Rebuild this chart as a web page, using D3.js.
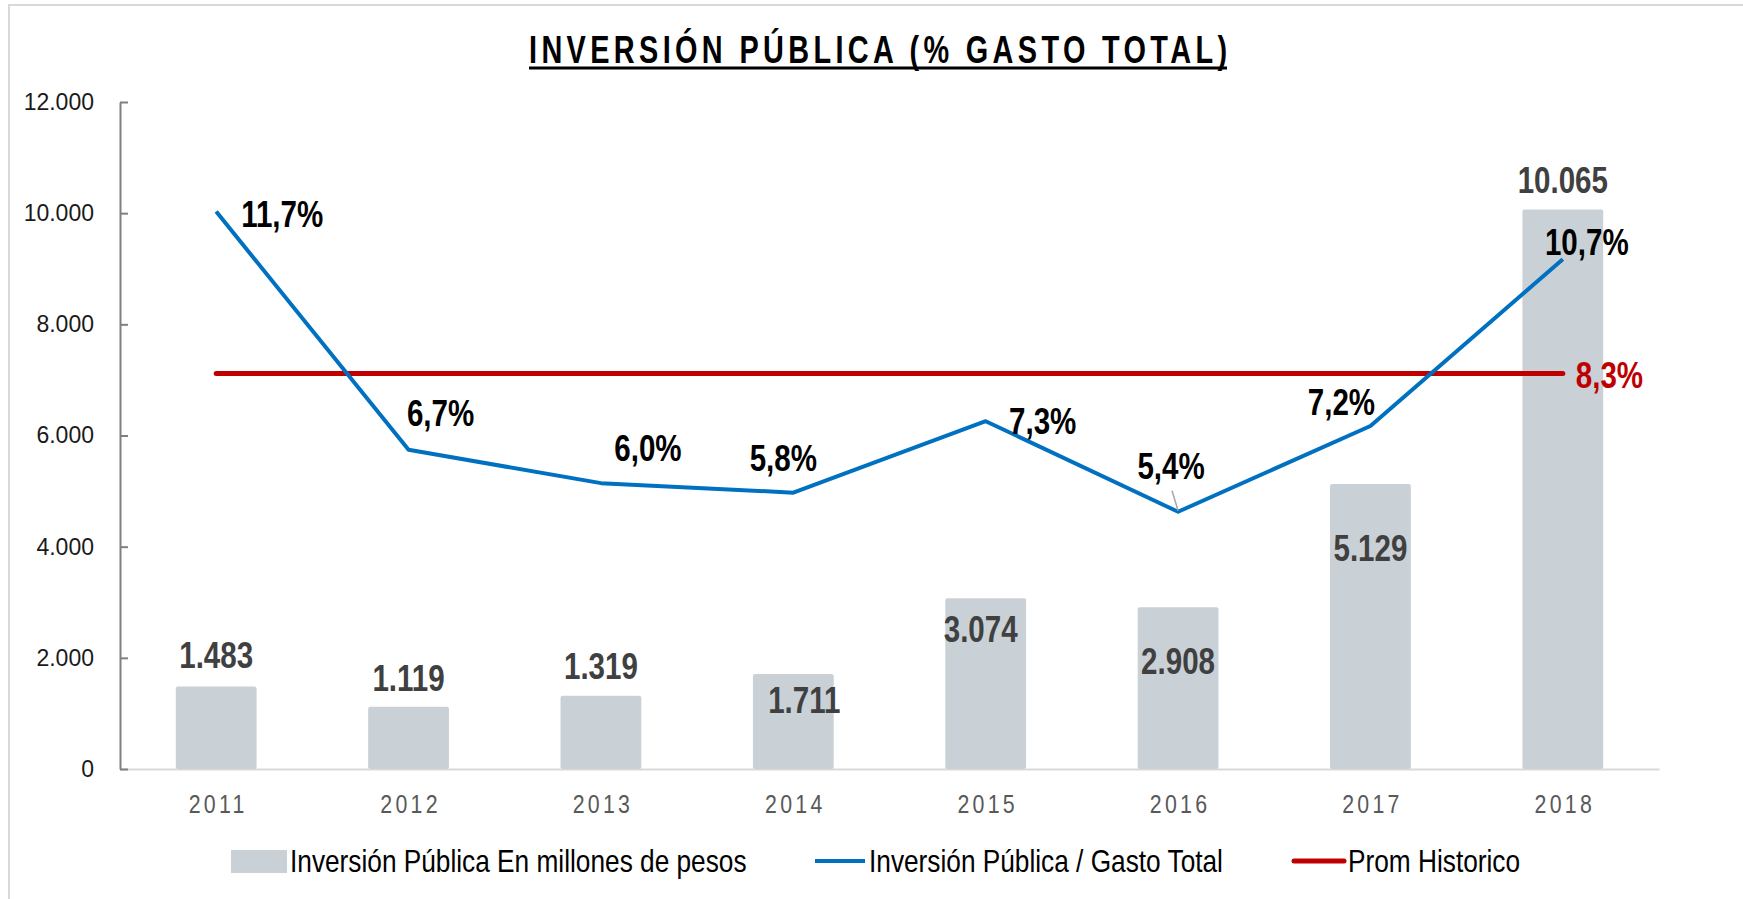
<!DOCTYPE html>
<html>
<head>
<meta charset="utf-8">
<script src="https://cdn.jsdelivr.net/npm/d3@7"></script>
<style>
  html, body { margin: 0; padding: 0; background: #fff; }
  svg { display: block; }
</style>
</head>
<body>
<svg id="chart" width="1743" height="899"></svg>
<script>
// ---------------- DATA ----------------
const categories = ["2011", "2012", "2013", "2014", "2015", "2016", "2017", "2018"];
const inversionMillones = [1483, 1119, 1319, 1711, 3074, 2908, 5129, 10065];
const inversionLabels = ["1.483", "1.119", "1.319", "1.711", "3.074", "2.908", "5.129", "10.065"];
const pctGastoTotal = [11.7, 6.7, 6.0, 5.8, 7.3, 5.4, 7.2, 10.7];
const pctLabels = ["11,7%", "6,7%", "6,0%", "5,8%", "7,3%", "5,4%", "7,2%", "10,7%"];
const promHistorico = 8.3;
const promLabel = "8,3%";
const yTickValues = [0, 2000, 4000, 6000, 8000, 10000, 12000];
const seriesNames = ["Inversión Pública En millones de pesos", "Inversión Pública / Gasto Total", "Prom Historico"];
const titleText = "INVERSIÓN PÚBLICA (% GASTO TOTAL)";

// ---------------- LAYOUT (not data) ----------------
const barLabelOffsets = [[0, -32], [0, -29], [0, -30], [11, 26], [-5, 31], [0, 54], [0, 64], [0, -30]];
const pctLabelOffsets = [[66, 2], [32, -37], [47, -35], [-10, -35], [57, 0], [-7, -46], [-29, -24], [24, -17]];

const COL_BAR = "#C9D1D7";
const COL_BLUE = "#0070C0";
const COL_RED = "#C00000";

// font detection
function hasFont(name) {
  const c = document.createElement("canvas").getContext("2d");
  const s = "abcdefgWMil10.065%";
  c.font = "40px monospace";
  const w1 = c.measureText(s).width;
  c.font = `40px "${name}", monospace`;
  const w2 = c.measureText(s).width;
  return Math.abs(w1 - w2) > 0.5;
}
const narrowOK = hasFont("Liberation Sans Narrow");
const NARROW = narrowOK ? '"Liberation Sans Narrow", "Arial Narrow", sans-serif' : '"Liberation Sans", Arial, sans-serif';
function narrowify(sel) {
  sel.style("font-family", NARROW);
  if (!narrowOK) {
    sel.each(function () {
      const w = this.getComputedTextLength();
      d3.select(this).attr("textLength", w * 0.82).attr("lengthAdjust", "spacingAndGlyphs");
    });
  }
  return sel;
}

const svg = d3.select("#chart");

// frame
svg.append("line").attr("x1", 8).attr("x2", 1743).attr("y1", 5).attr("y2", 5)
  .attr("stroke", "#d9d9d9").attr("stroke-width", 2);
svg.append("line").attr("x1", 9).attr("x2", 9).attr("y1", 4).attr("y2", 899)
  .attr("stroke", "#d9d9d9").attr("stroke-width", 2);

// scales
const x = d3.scaleBand().domain(categories).range([120, 1659]).paddingInner(0.58).paddingOuter(0.29);
const y = d3.scaleLinear().domain([0, 12000]).range([769, 102]);
const y2 = d3.scaleLinear().domain([0, 14]).range([769, 102]);
const cx = c => x(c) + x.bandwidth() / 2;

// title
const TITLE_W = 698, TITLE_CX = 878;
if (narrowOK) {
  svg.append("text")
    .attr("x", TITLE_CX).attr("y", 63)
    .attr("text-anchor", "middle")
    .style("font-family", NARROW)
    .style("font-size", "38px").style("font-weight", "bold")
    .attr("fill", "#000")
    .attr("textLength", TITLE_W).attr("lengthAdjust", "spacing")
    .text(titleText);
} else {
  svg.append("text")
    .attr("transform", `translate(${TITLE_CX},63) scale(0.76,1)`)
    .attr("x", 0).attr("y", 0)
    .attr("text-anchor", "middle")
    .style("font-family", NARROW)
    .style("font-size", "38px").style("font-weight", "bold")
    .attr("fill", "#000")
    .attr("textLength", TITLE_W / 0.76).attr("lengthAdjust", "spacing")
    .text(titleText);
}
svg.append("line").attr("x1", TITLE_CX - TITLE_W / 2).attr("x2", TITLE_CX + TITLE_W / 2)
  .attr("y1", 68).attr("y2", 68)
  .attr("stroke", "#000").attr("stroke-width", 3);

// x axis
const xAxis = svg.append("g").attr("transform", "translate(0,769)")
  .call(d3.axisBottom(x).tickSize(0).tickPadding(26));
xAxis.select(".domain").attr("stroke", "#d9d9d9").attr("stroke-width", 2);
xAxis.selectAll("text").attr("fill", "#595959").style("font-size", "26px")
  .style("letter-spacing", "4px").attr("dx", "2px");
narrowify(xAxis.selectAll("text"));

// bars
svg.append("g").selectAll("rect").data(categories).join("rect")
  .attr("x", d => x(d))
  .attr("width", x.bandwidth())
  .attr("y", (d, i) => y(inversionMillones[i]))
  .attr("height", (d, i) => y(0) - y(inversionMillones[i]))
  .attr("rx", 2)
  .attr("fill", COL_BAR);

// y axis
const yAxis = svg.append("g").attr("transform", "translate(120,0)")
  .call(d3.axisLeft(y).tickValues(yTickValues).tickSizeInner(-8).tickSizeOuter(0).tickPadding(26)
    .tickFormat(d => d3.format(",")(d).replace(/,/g, ".")));
yAxis.select(".domain").attr("stroke", "#808080").attr("stroke-width", 2);
yAxis.selectAll(".tick line").attr("stroke", "#808080").attr("stroke-width", 2);
yAxis.selectAll("text").attr("fill", "#1a1a1a")
  .style("font-family", '"Liberation Sans", Arial, sans-serif').style("font-size", "23px");

// average line
svg.append("line")
  .attr("x1", cx(categories[0])).attr("x2", cx(categories[categories.length - 1]))
  .attr("y1", y2(promHistorico)).attr("y2", y2(promHistorico))
  .attr("stroke", COL_RED).attr("stroke-width", 5).attr("stroke-linecap", "round");

// pct line
const line = d3.line().x((d, i) => cx(categories[i])).y(d => y2(d));
svg.append("path").datum(pctGastoTotal)
  .attr("d", line).attr("fill", "none")
  .attr("stroke", COL_BLUE).attr("stroke-width", 4).attr("stroke-linejoin", "round");

// leader line for 2016
{
  const i = 5;
  const px = cx(categories[i]), py = y2(pctGastoTotal[i]);
  svg.append("line").attr("x1", px).attr("y1", py - 1).attr("x2", px - 6).attr("y2", py - 21)
    .attr("stroke", "#a6a6a6").attr("stroke-width", 1.5);
}

// bar labels
const bl = svg.append("g").selectAll("text").data(categories).join("text")
  .attr("x", (d, i) => cx(d) + barLabelOffsets[i][0])
  .attr("y", (d, i) => y(inversionMillones[i]) + barLabelOffsets[i][1] + 13)
  .attr("text-anchor", "middle")
  .attr("fill", "#404040")
  .style("font-size", "36px").style("font-weight", "bold")
  .text((d, i) => inversionLabels[i]);
narrowify(bl);

// pct labels
const pl = svg.append("g").selectAll("text").data(categories).join("text")
  .attr("x", (d, i) => cx(d) + pctLabelOffsets[i][0])
  .attr("y", (d, i) => y2(pctGastoTotal[i]) + pctLabelOffsets[i][1] + 13)
  .attr("text-anchor", "middle")
  .attr("fill", "#000")
  .style("font-size", "36px").style("font-weight", "bold")
  .text((d, i) => pctLabels[i]);
narrowify(pl);

// avg label
const al = svg.append("text")
  .attr("x", cx(categories[categories.length - 1]) + 13)
  .attr("y", y2(promHistorico) + 14)
  .attr("fill", COL_RED)
  .style("font-size", "36px").style("font-weight", "bold")
  .text(promLabel);
narrowify(al);

// legend
const lg = svg.append("g");
lg.append("rect").attr("x", 231).attr("y", 850).attr("width", 56).attr("height", 23).attr("fill", COL_BAR);
lg.append("line").attr("x1", 815).attr("x2", 865).attr("y1", 861).attr("y2", 861)
  .attr("stroke", COL_BLUE).attr("stroke-width", 4);
lg.append("line").attr("x1", 1294).attr("x2", 1344).attr("y1", 861).attr("y2", 861)
  .attr("stroke", COL_RED).attr("stroke-width", 5).attr("stroke-linecap", "round");
const legX = [290, 869, 1348];
const lt = lg.selectAll("text.leg").data(seriesNames).join("text")
  .attr("class", "leg")
  .attr("x", (d, i) => legX[i]).attr("y", 872)
  .attr("fill", "#000")
  .style("font-size", "32px")
  .text(d => d);
narrowify(lt);
</script>
</body>
</html>
